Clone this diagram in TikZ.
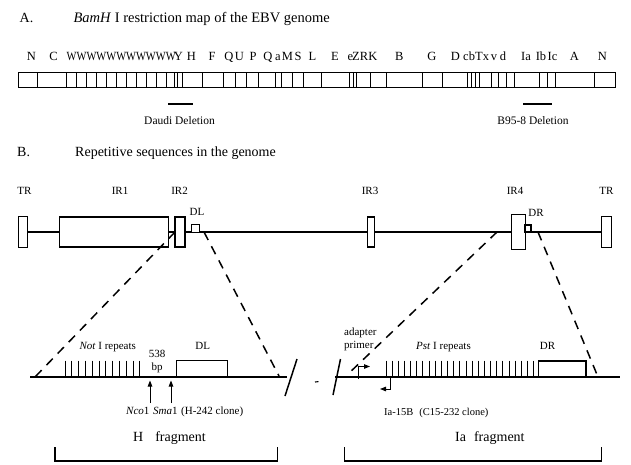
\documentclass[tikz,border=0pt]{standalone}
\usepackage{fontspec}
\setmainfont{Liberation Serif}
\usetikzlibrary{arrows.meta}
\begin{document}
\begin{tikzpicture}[x=1pt,y=-1pt,
  ttl/.style={anchor=base west,inner sep=0pt,font=\fontsize{14}{16}\selectfont},
  mapl/.style={anchor=base,inner sep=0pt,font=\fontsize{12.5}{14}\selectfont},
  dell/.style={anchor=base,inner sep=0pt,font=\fontsize{11.5}{13}\selectfont},
  lab/.style={anchor=base,inner sep=0pt,font=\fontsize{11}{13}\selectfont},
  labw/.style={anchor=base west,inner sep=0pt,font=\fontsize{11}{13}\selectfont},
  frag/.style={anchor=base west,inner sep=0pt,font=\fontsize{14}{16}\selectfont},
  gbox/.style={draw,line width=1.1pt,fill=white,inner sep=0pt,outer sep=0pt},
  gline/.style={line width=1.2pt},
  exline/.style={line width=1.5pt,dash pattern=on 9pt off 7pt},
  delline/.style={line width=2pt},
  tickln/.style={line width=0.9pt},
  arr/.style={line width=1pt,-{Triangle[length=6pt,width=4.5pt]}},
  brk/.style={line width=1.5pt}]
\useasboundingbox (0,0) rectangle (631,464);

% ---------- Part A ----------
\node[ttl] (tA) at (19.5,22.7) {A.};
\node[ttl,font=\fontsize{14.5}{16}\selectfont] (tAt) at (73.3,22.7) {\textit{BamH} I restriction map of the EBV genome};

% map labels
\foreach \x/\t [count=\i] in {31.5/N,53.5/C,178.5/Y,191.5/H,212/F,229/Q,239.5/U,253/P,268/Q,278/a,287.5/M,298/S,312.5/L,335/E,350.3/e,356/Z,364/R,373/K,399.3/B,432/G,455.5/D,466/c,472/b,479/T,486/x,494/v,503/d,526/Ia,541/Ib,552.5/Ic,574.5/A,602.5/N}
  \node[mapl] (m\i) at (\x,60.7) {\t};
\node[mapl,anchor=base west] (mW) at (66.5,60.7) {\scalebox{0.84}[1]{WWWWWWWWWWW}};

% map bar
\draw[line width=1.3pt] (18.3,72.5) rectangle (615.5,87.5);
\foreach \x in {37.3,66,76,86,96,106,116,126,136,146,156,166,174,177,182,202.5,223,235,246,258.3,275.5,281,292,303.5,321.5,349.3,353,356.7,370.7,386,422.7,442.7,467.5,471,475,479.2,491,498,506.7,514.2,539.2,547.2,555.8,594.7}
  \draw[line width=1pt] (\x,72.5) -- (\x,87.5);

% deletions
\coordinate (d1a) at (168,103.5); \coordinate (d1b) at (192.7,103.5);
\coordinate (d2a) at (523.3,103.5); \coordinate (d2b) at (551.7,103.5);
\draw[delline] (d1a) -- (d1b);
\draw[delline] (d2a) -- (d2b);
\node[dell] (daudi) at (179.5,124.5) {Daudi Deletion};
\node[dell] (b958) at (533,124.5) {B95-8 Deletion};

% ---------- Part B ----------
\node[ttl] (tB) at (17,156) {B.};
\node[ttl] (tBt) at (75,156) {Repetitive sequences in the genome};

\node[lab] (lTR1) at (24.5,194) {TR};
\node[lab] (lIR1) at (120,194) {IR1};
\node[lab] (lIR2) at (179.5,194) {IR2};
\node[lab] (lIR3) at (370,194) {IR3};
\node[lab] (lIR4) at (515,194) {IR4};
\node[lab] (lTR2) at (606.5,194) {TR};
\node[lab] (lDL) at (197,215) {DL};
\node[lab] (lDR) at (536,216.7) {DR};

% genome line and boxes
\coordinate (gstart) at (22.8,232);
\coordinate (gend) at (606.4,232);
\draw[gline] (gstart) -- (gend);
\node[gbox,minimum width=9pt,minimum height=31pt] (trL) at (22.8,232) {};
\node[gbox,minimum width=109pt,minimum height=30pt] (ir1) at (113.8,232) {};
\node[gbox,minimum width=10pt,minimum height=30pt] (ir2) at (180,232) {};
\node[gbox,minimum width=7.3pt,minimum height=7.7pt] (dl) at (195.4,228.2) {};
\node[gbox,minimum width=6.6pt,minimum height=30pt] (ir3) at (371,232) {};
\node[gbox,minimum width=13.3pt,minimum height=34.7pt] (ir4) at (518.4,232) {};
\node[gbox,minimum width=6pt,minimum height=7pt] (dr) at (528,228.5) {};
\node[gbox,minimum width=10.7pt,minimum height=31.8pt] (trR) at (606.4,232) {};

% dashed expansion lines
\coordinate (e1t) at (175,232); \coordinate (e1b) at (35,377);
\coordinate (e2t) at (204,232); \coordinate (e2b) at (279,376);
\coordinate (e3t) at (497,232); \coordinate (e3b) at (347,375);
\coordinate (e4t) at (538,232); \coordinate (e4b) at (598,377);
\draw[exline] (e1t) -- (e1b);
\draw[exline] (e2t) -- (e2b);
\draw[exline] (e3t) -- (e3b);
\draw[exline] (e4t) -- (e4b);

% ---------- H fragment ----------
\coordinate (hL) at (30,377); \coordinate (hR) at (287,377);
\draw[gline] (hL) -- (hR);
\foreach \i in {0,...,11}
  \draw[tickln] ({65+6.8*\i},360.5) -- ({65+6.8*\i},377);
\node[gbox,minimum width=50.6pt,minimum height=16.3pt] (hDL) at (202,368.85) {};
\node[labw] (notI) at (79.3,349.3) {\textit{Not} I repeats};
\node[lab] (n538) at (157,357.3) {538};
\node[lab] (nbp) at (157,370.5) {bp};
\node[lab] (hDLl) at (202.7,349.3) {DL};
\coordinate (ncoB) at (150,403); \coordinate (ncoT) at (150,380.5);
\coordinate (smaB) at (171,403); \coordinate (smaT) at (171,380.5);
\draw[arr] (ncoB) -- (ncoT);
\draw[arr] (smaB) -- (smaT);
\node[labw] (ncosma) at (126,414) {\textit{Nco}1\,\,\textit{Sma}1\,\,(H-242 clone)};

% break marks
\coordinate (s1b) at (285,396); \coordinate (s1t) at (297,359);
\coordinate (s2b) at (333,395); \coordinate (s2t) at (340.5,359);
\coordinate (tl) at (315,382); \coordinate (tr) at (318.5,381.6);
\draw[brk] (s1b) -- (s1t);
\draw[brk] (s2b) -- (s2t);
\draw[line width=1.1pt] (tl) -- (tr);

% ---------- Ia fragment ----------
\coordinate (iL) at (335,377); \coordinate (iR) at (620,377);
\draw[gline] (iL) -- (iR);
\foreach \i in {0,...,24}
  \draw[tickln] ({386+6.15*\i},360.5) -- ({386+6.15*\i},377);
\node[gbox,minimum width=47.4pt,minimum height=16pt] (iDR) at (562.3,369) {};
\node[labw] (adap) at (344,335) {adapter};
\node[labw] (prim) at (344,348) {primer};
\node[labw] (pstI) at (416,349.5) {\textit{Pst} I repeats};
\node[lab] (iDRl) at (547.5,349.3) {DR};
\coordinate (p1a) at (358.3,378.5); \coordinate (p1b) at (358.3,366.5); \coordinate (p1c) at (370,366.5);
\draw[arr] (p1a) -- (p1b) -- (p1c);
\coordinate (p2a) at (390,377); \coordinate (p2b) at (390,389); \coordinate (p2c) at (380,389);
\draw[arr] (p2a) -- (p2b) -- (p2c);
\node[labw,font=\fontsize{10.5}{12}\selectfont] (ia15) at (384,415) {Ia-15B\hspace{6pt}(C15-232 clone)};

% brackets
\coordinate (bh1) at (55,447.4); \coordinate (bh2) at (55,461); \coordinate (bh3) at (277.6,461); \coordinate (bh4) at (277.6,447.4);
\draw[line width=1.2pt] (bh1) -- (bh2) -- (bh3) -- (bh4);
\coordinate (bi1) at (344.7,447.4); \coordinate (bi2) at (344.7,461); \coordinate (bi3) at (601.6,461); \coordinate (bi4) at (601.6,447.4);
\draw[line width=1.2pt] (bi1) -- (bi2) -- (bi3) -- (bi4);
\node[frag] (hfr) at (133,441) {H\hspace{12pt}fragment};
\node[frag] (iafr) at (455,441) {Ia\hspace{8pt}fragment};
\end{tikzpicture}
\end{document}
